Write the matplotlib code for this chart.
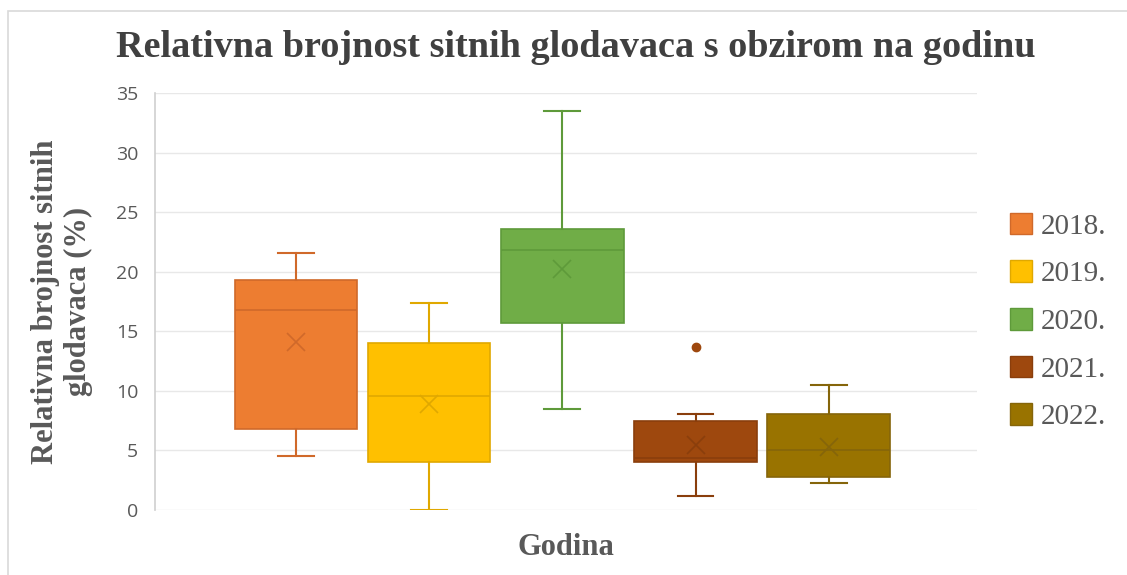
import matplotlib
matplotlib.use('Agg')
import matplotlib.pyplot as plt
from matplotlib.patches import Patch, Rectangle

# vrijednosti ocitane s grafa
godine = ['2018.', '2019.', '2020.', '2021.', '2022.']
minimum = [4.5, 0.0, 8.5, 1.2, 2.3]
q1 = [6.8, 4.0, 15.7, 4.0, 2.8]
medijan = [16.8, 9.6, 21.8, 4.4, 5.0]
q3 = [19.3, 14.0, 23.6, 7.5, 8.1]
maksimum = [21.6, 17.4, 33.5, 8.1, 10.5]
prosjek = [14.1, 8.9, 20.2, 5.5, 5.3]
outlieri = [[], [], [], [13.7], []]

boje = ['#ED7D31', '#FFC000', '#70AD47', '#9E480E', '#997300']
rubovi = ['#D0692A', '#E0A800', '#5E9A3A', '#8A3E0C', '#85650A']

siva = '#595959'

fig = plt.figure(figsize=(11.27, 5.75), dpi=100)
ax = fig.add_axes([0.1375, 0.113, 0.7295, 0.725])

stats = []
for i in range(len(godine)):
    stats.append({
        'label': godine[i],
        'whislo': minimum[i], 'q1': q1[i], 'med': medijan[i],
        'q3': q3[i], 'whishi': maksimum[i], 'mean': prosjek[i],
        'fliers': outlieri[i],
    })

pos = list(range(1, len(godine) + 1))
for i, s in enumerate(stats):
    c, e = boje[i], rubovi[i]
    ax.bxp([s], positions=[pos[i]], widths=0.92, capwidths=0.27,
           patch_artist=True, showmeans=True, meanline=False,
           boxprops=dict(facecolor=c, edgecolor=e, linewidth=1.2),
           medianprops=dict(color=e, linewidth=1.2),
           whiskerprops=dict(color=e, linewidth=1.5),
           capprops=dict(color=e, linewidth=1.5),
           meanprops=dict(marker='x', markeredgecolor=e, markersize=13,
                          markeredgewidth=1.2),
           flierprops=dict(marker='o', markerfacecolor=c, markeredgecolor=c,
                           markersize=6),
           zorder=3)

ax.set_xlim(-0.06, 6.115)
ax.set_ylim(0, 35)
ax.set_yticks(range(0, 36, 5))
ax.set_xticks([])
ax.grid(axis='y', color='#e8e8e8', linewidth=1, zorder=0)
ax.set_axisbelow(True)
for sp in ['top', 'right', 'bottom']:
    ax.spines[sp].set_visible(False)
ax.spines['left'].set_color('#cfcfcf')
ax.spines['left'].set_linewidth(1.2)
ax.tick_params(axis='y', length=0, pad=12, labelcolor=siva, labelsize=14)
for t in ax.get_yticklabels():
    t.set_family('Open Sans')

serif = 'Liberation Serif'
fig.text(0.511, 0.918, 'Relativna brojnost sitnih glodavaca s obzirom na godinu',
         ha='center', va='center', family=serif, weight='bold',
         fontsize=27.5, color='#404040')
fig.text(0.055, 0.476, 'Relativna brojnost sitnih\nglodavaca (%)', family=serif,
         weight='bold', fontsize=22, color=siva, rotation=90,
         ha='center', va='center', multialignment='center', linespacing=1.15)
fig.text(0.502, 0.047, 'Godina', ha='center', va='center', family=serif,
         weight='bold', fontsize=22, color=siva)

handles = [Patch(facecolor=boje[i], edgecolor=rubovi[i], label=godine[i])
           for i in range(len(godine))]
leg = ax.legend(handles=handles, loc='center left', bbox_to_anchor=(1.008, 0.452),
                frameon=False, prop={'family': serif, 'size': 21},
                labelcolor=siva, handlelength=0.76, handleheight=0.76,
                labelspacing=0.71, handletextpad=0.3)

# okvir grafikona
fig.patches.append(Rectangle((8 / 1127, -0.1), 1.2, 1.1 - 11 / 575,
                             transform=fig.transFigure, fill=False,
                             edgecolor='#d9d9d9', linewidth=1.2))

fig.savefig('out.png', dpi=100)
plt.close()
